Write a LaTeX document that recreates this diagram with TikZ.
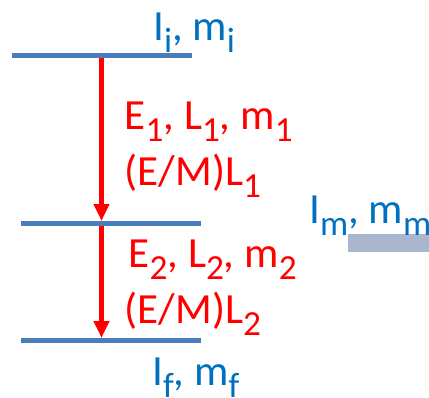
\documentclass[tikz,border=0pt]{standalone}
\usepackage{fontspec}
\setmainfont{Carlito}
\usepackage{graphicx}
\usetikzlibrary{arrows.meta}
\definecolor{levelblue}{RGB}{74,126,187}
\definecolor{labelblue}{RGB}{0,112,192}
\definecolor{bargrey}{RGB}{170,181,206}
\newcommand{\lsub}[1]{\raisebox{-0.3em}{\scalebox{0.82}{#1}}}

\begin{document}
\begin{tikzpicture}[
  x=1pt,y=1pt,
  level/.style={levelblue,line width=5pt},
  trans/.style={red,line width=4.5pt,-{Triangle[width=15pt,length=17pt]},shorten <=2.5pt,shorten >=2pt},
  state/.style={labelblue,inner sep=0pt,anchor=base west,font=\fontsize{43}{45}\selectfont},
  mult/.style={red,inner sep=0pt,anchor=base west,font=\fontsize{43}{45}\selectfont},
]
\useasboundingbox (0,0) rectangle (429,-397);
\clip (0,0) rectangle (429,-397);

% Levels
\draw[level] (12,-55.5) -- (192,-55.5);
\draw[level] (21,-223) -- (201,-223);
\draw[level] (21,-340) -- (201,-340);
\fill[bargrey] (348,-234) rectangle (429,-252);

% Cascade
\coordinate (top) at (101.5,-55.5);
\coordinate (mid) at (101.5,-223);
\coordinate (bot) at (101.5,-340);
\draw[trans] (top) -- (mid);
\draw[trans] (mid) -- (bot);

% States
\node[state] (li) at (153,-40) {I\lsub{i}, m\lsub{i}};
\node[state] (lm) at (309,-223) {I\lsub{m}, m\lsub{m}};
\node[state] (lf) at (152,-385) {I\lsub{f}, m\lsub{f}};

% Multipoles
\node[mult] (t1) at (124.5,-129) {E\lsub{1}, L\lsub{1}, m\lsub{1}};
\node[mult] (e1) at (124.5,-185) {(E/M)L\lsub{1}};
\node[mult] (t2) at (128.5,-267) {E\lsub{2}, L\lsub{2}, m\lsub{2}};
\node[mult] (e2) at (124.5,-323) {(E/M)L\lsub{2}};

\end{tikzpicture}
\end{document}
